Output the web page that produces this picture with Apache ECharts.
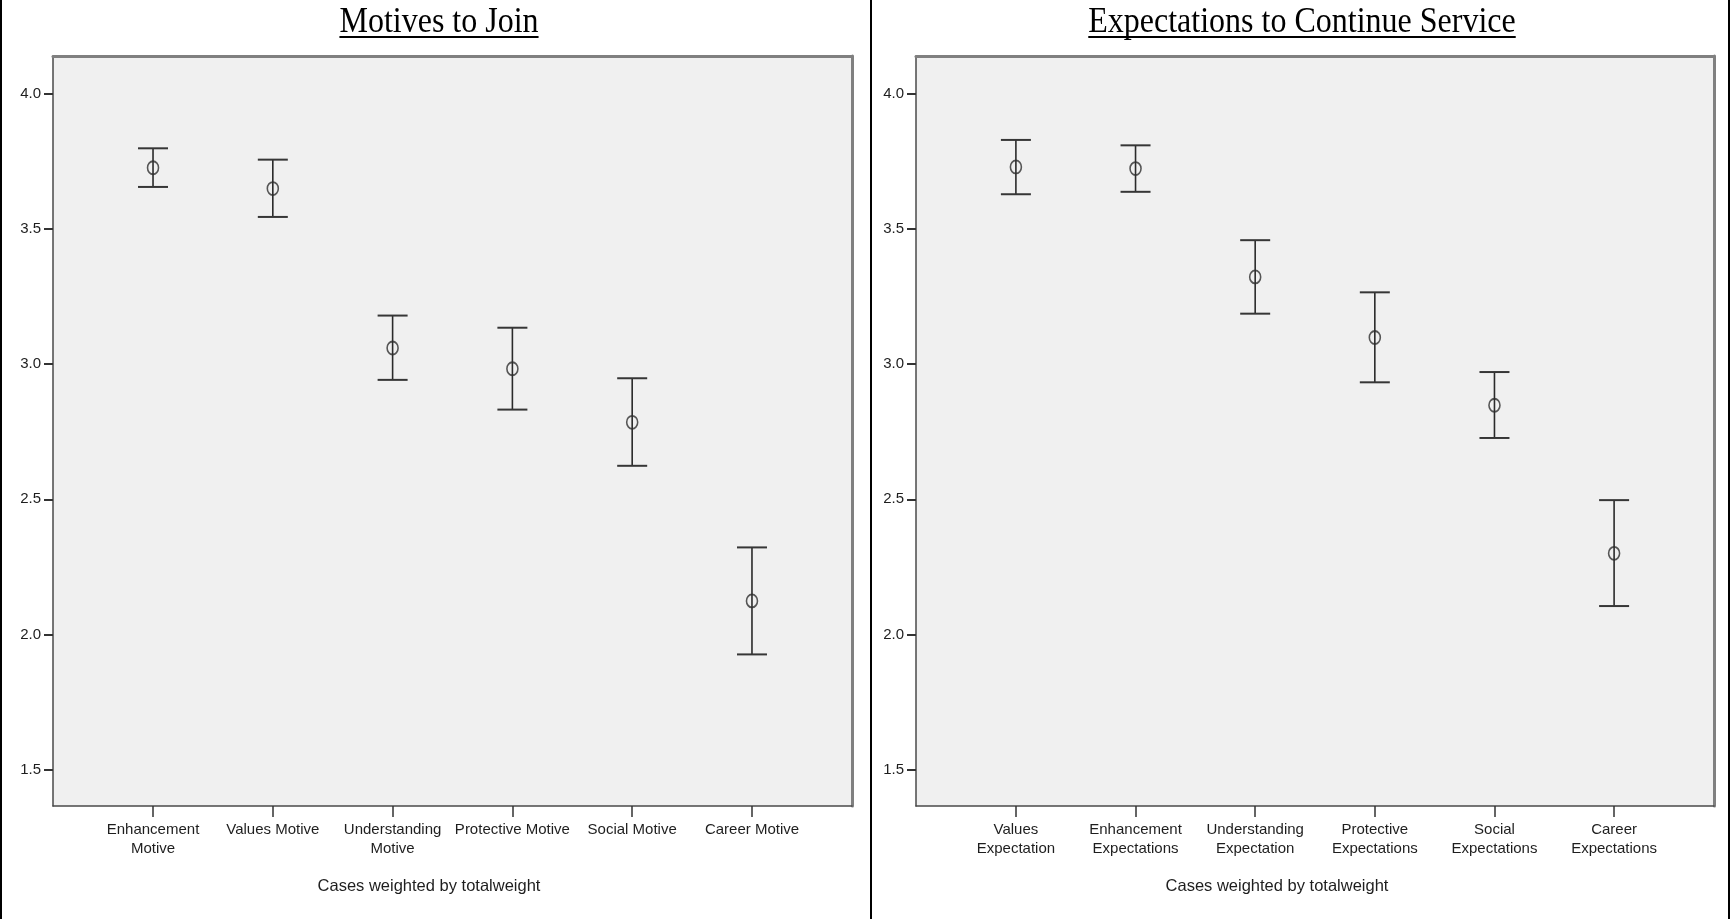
<!DOCTYPE html>
<html>
<head>
<meta charset="utf-8">
<style>
html,body{margin:0;padding:0;background:#fff;}
#chart{width:1730px;height:919px;}
</style>
<script src="https://cdn.jsdelivr.net/npm/echarts@6/dist/echarts.min.js"></script>
</head>
<body>
<div id="chart"></div>
<script>
// ---- data ----
const motiveTitle = 'Motives to Join';
const motiveCategories = ['Enhancement\nMotive', 'Values Motive', 'Understanding\nMotive', 'Protective Motive', 'Social Motive', 'Career Motive'];
const motiveMeans = [3.727, 3.650, 3.060, 2.983, 2.785, 2.124];
const motiveLower = [3.656, 3.545, 2.942, 2.832, 2.624, 1.926];
const motiveUpper = [3.799, 3.757, 3.180, 3.135, 2.948, 2.322];

const expectTitle = 'Expectations to Continue Service';
const expectCategories = ['Values\nExpectation', 'Enhancement\nExpectations', 'Understanding\nExpectation', 'Protective\nExpectations', 'Social\nExpectations', 'Career\nExpectations'];
const expectMeans = [3.730, 3.724, 3.323, 3.099, 2.848, 2.300];
const expectLower = [3.629, 3.638, 3.187, 2.933, 2.727, 2.105];
const expectUpper = [3.830, 3.810, 3.459, 3.266, 2.971, 2.497];

const yTickValues = [1.5, 2.0, 2.5, 3.0, 3.5, 4.0];
const footnote = 'Cases weighted by totalweight';

// ---- layout / style ----
const Y_MIN = 1.365, Y_MAX = 4.1406;
const X_MIN = -0.835, X_MAX = 5.835;
const TEXT = '#1e1e1e';
const MARK = '#2a2a2a';
const SANS = '"Liberation Sans", Arial, sans-serif';
const SERIF = '"Liberation Serif", "Times New Roman", serif';

const grids = [
  {left: 53, right: 878, top: 56, bottom: 113},
  {left: 916, right: 16, top: 56, bottom: 113}
];

function measure(text, font) {
  const c = document.createElement('canvas').getContext('2d');
  c.font = font;
  return c.measureText(text).width;
}

const panels = [
  {cats: motiveCategories, means: motiveMeans, lo: motiveLower, hi: motiveUpper, title: motiveTitle, titleX: 439, noteX: 429},
  {cats: expectCategories, means: expectMeans, lo: expectLower, hi: expectUpper, title: expectTitle, titleX: 1302, noteX: 1277}
];
const catIdx = [0, 1, 2, 3, 4, 5];

const xAxes = [], yAxes = [], series = [], graphics = [];
panels.forEach(function (p, i) {
  xAxes.push({
    type: 'value', gridIndex: i, min: X_MIN, max: X_MAX, position: 'bottom',
    splitLine: {show: false},
    axisLine: {show: true, onZero: false, lineStyle: {color: '#4a4a4a', width: 1.5}},
    axisTick: {show: true, length: 11, customValues: catIdx, lineStyle: {color: '#333', width: 1.5}},
    axisLabel: {
      customValues: catIdx, margin: 14, color: TEXT, fontFamily: SANS, fontSize: 15, lineHeight: 19,
      formatter: function (v) { return p.cats[Math.round(v)]; }
    }
  });
  // top frame
  xAxes.push({
    type: 'value', gridIndex: i, min: X_MIN, max: X_MAX, position: 'top',
    splitLine: {show: false}, axisTick: {show: false}, axisLabel: {show: false},
    axisLine: {show: true, onZero: false, lineStyle: {color: '#808080', width: 3}}
  });
  yAxes.push({
    type: 'value', gridIndex: i, min: Y_MIN, max: Y_MAX, position: 'left',
    splitLine: {show: false},
    axisLine: {show: true, onZero: false, lineStyle: {color: '#4a4a4a', width: 1.5}},
    axisTick: {show: true, length: 9, customValues: yTickValues, lineStyle: {color: '#333', width: 2}},
    axisLabel: {
      customValues: yTickValues, margin: 12, color: TEXT, fontFamily: SANS, fontSize: 15,
      formatter: function (v) { return v.toFixed(1); }
    }
  });
  // right frame
  yAxes.push({
    type: 'value', gridIndex: i, min: Y_MIN, max: Y_MAX, position: 'right',
    splitLine: {show: false}, axisTick: {show: false}, axisLabel: {show: false},
    axisLine: {show: true, onZero: false, lineStyle: {color: '#808080', width: 3}}
  });

  const errData = p.means.map(function (m, k) { return [k, p.lo[k], p.hi[k]]; });
  const meanData = p.means.map(function (m, k) { return [k, m]; });

  series.push({
    type: 'custom', xAxisIndex: i * 2, yAxisIndex: i * 2, data: errData, silent: true,
    renderItem: function (params, api) {
      const x = api.value(0);
      const pHi = api.coord([x, api.value(2)]);
      const pLo = api.coord([x, api.value(1)]);
      const half = 15;
      return {
        type: 'group', children: [
          {type: 'line', shape: {x1: pHi[0], y1: pHi[1], x2: pLo[0], y2: pLo[1]}, style: {stroke: MARK, lineWidth: 1.6}},
          {type: 'line', shape: {x1: pHi[0] - half, y1: pHi[1], x2: pHi[0] + half, y2: pHi[1]}, style: {stroke: '#363636', lineWidth: 2}},
          {type: 'line', shape: {x1: pLo[0] - half, y1: pLo[1], x2: pLo[0] + half, y2: pLo[1]}, style: {stroke: '#363636', lineWidth: 2}}
        ]
      };
    }
  });
  series.push({
    type: 'scatter', xAxisIndex: i * 2, yAxisIndex: i * 2, data: meanData, silent: true,
    symbol: 'circle', symbolSize: [11, 13],
    itemStyle: {color: 'rgba(0,0,0,0)', borderColor: '#2e2e2e', borderWidth: 1.7}
  });

  // titles with underline
  const tFont = '32px ' + SERIF;
  const tw = measure(p.title, tFont);
  graphics.push({
    type: 'text', x: p.titleX, y: 22.5, z: 10, scaleY: 1.09,
    style: {text: p.title, fill: '#000', font: tFont, textAlign: 'center', textVerticalAlign: 'middle'}
  });
  graphics.push({
    type: 'line', z: 10,
    shape: {x1: p.titleX - tw / 2, y1: 37, x2: p.titleX + tw / 2, y2: 37},
    style: {stroke: '#000', lineWidth: 2}
  });
  graphics.push({
    type: 'text', x: p.noteX, y: 886.5, z: 10,
    style: {text: footnote, fill: TEXT, font: '16.5px ' + SANS, textAlign: 'center', textVerticalAlign: 'middle'}
  });
});

// outer table borders
[1, 871, 1729].forEach(function (x) {
  graphics.push({type: 'line', z: 10, shape: {x1: x, y1: 0, x2: x, y2: 919}, style: {stroke: '#000', lineWidth: 2}});
});

const chart = echarts.init(document.getElementById('chart'), null, {renderer: 'canvas'});
chart.setOption({
  animation: false,
  backgroundColor: '#ffffff',
  grid: grids.map(function (g) {
    return Object.assign({show: true, backgroundColor: '#f0f0f0', borderWidth: 0, containLabel: false}, g);
  }),
  xAxis: xAxes,
  yAxis: yAxes,
  series: series,
  graphic: graphics
});
</script>
</body>
</html>
